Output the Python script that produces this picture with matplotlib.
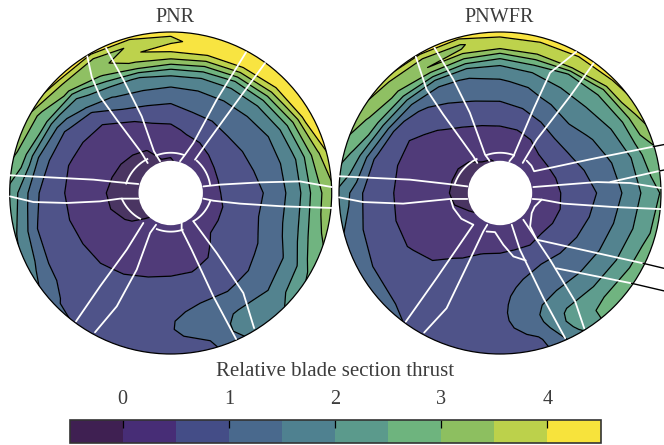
'''
Relative blade section thrust over the rotor disc, two rotor cases
'''

import numpy as np
import matplotlib
matplotlib.use('Agg')
import matplotlib.pyplot as plt
from matplotlib.cm import ScalarMappable
from matplotlib.colors import BoundaryNorm, ListedColormap
from matplotlib.patches import Circle

plt.rcParams['font.family'] = ['Liberation Serif', 'DejaVu Serif']

titles = ['PNR', 'PNWFR']
colorbar_label = 'Relative blade section thrust'
levels = [-0.5, 0, 0.5, 1, 1.5, 2, 2.5, 3, 3.5, 4, 4.5]
colorbar_ticks = [0, 1, 2, 3, 4]

disc_colors = ['#4a3562', '#503b79', '#4f5389', '#4e6b8d', '#53838f',
               '#5f9d8e', '#70b480', '#8fc063', '#bdd24c', '#f8e441']
bar_colors = ['#3f2052', '#472d76', '#444d87', '#49698d', '#4f8190',
              '#5b9a8c', '#6eb47e', '#8dbf60', '#bcd14b', '#f7e33c']

# radial stations (r/R), rows below go clockwise from the top every 15 deg
radii = [0.2, 0.3, 0.4, 0.5, 0.6, 0.65, 0.7, 0.75, 0.8, 0.85, 0.9, 0.95, 1.0]
azimuths = np.arange(0, 375, 15)

pnr_thrust = [
    [-.05, .2, .4, .75, 1.2, 1.45, 1.75, 2.2, 3.0, 3.75, 4.2, 3.85, 4.3],
    [.1, .28, .57, .93, 1.3, 1.47, 1.73, 2.1, 2.8, 3.55, 4.2, 4.35, 4.4],
    [.1, .3, .63, .95, 1.28, 1.45, 1.7, 2.0, 2.5, 3.3, 4.0, 4.4, 4.45],
    [.1, .4, .7, 1.0, 1.28, 1.42, 1.6, 1.88, 2.33, 3.0, 3.7, 4.3, 4.45],
    [.12, .47, .72, .96, 1.23, 1.36, 1.5, 1.78, 2.1, 2.65, 3.3, 4.1, 4.4],
    [.15, .49, .7, .91, 1.18, 1.33, 1.47, 1.72, 1.97, 2.4, 2.95, 3.45, 4.2],
    [.15, .48, .67, .85, 1.05, 1.27, 1.43, 1.66, 1.93, 2.35, 2.75, 3.07, 3.4],
    [.15, .42, .65, .85, 1.08, 1.25, 1.42, 1.62, 1.86, 2.2, 2.62, 2.94, 3.15],
    [.15, .42, .62, .78, .95, 1.05, 1.2, 1.33, 1.47, 1.7, 1.95, 2.33, 2.7],
    [.1, .4, .6, .72, .85, .93, 1.04, 1.19, 1.34, 1.48, 1.68, 1.87, 2.05],
    [.1, .22, .38, .57, .77, .88, .98, 1.15, 1.33, 1.55, 1.7, 1.8, 1.6],
    [.08, .2, .33, .48, .74, .85, .98, 1.1, 1.2, 1.27, 1.15, 1.0, .88],
    [.05, .17, .3, .46, .7, .78, .85, .91, .97, .97, .92, .85, .8],
    [.05, .14, .27, .42, .62, .68, .74, .78, .8, .8, .78, .75, .73],
    [.05, .12, .22, .36, .53, .6, .67, .72, .76, .8, .83, .87, .9],
    [-.02, .06, .17, .3, .47, .56, .63, .7, .76, .82, .88, .96, 1.1],
    [-.1, -.04, .1, .27, .44, .54, .62, .7, .78, .88, 1.12, 1.42, 1.8],
    [-.15, -.12, .02, .22, .4, .5, .6, .7, .8, .95, 1.33, 1.8, 2.15],
    [-.15, -.13, 0, .2, .38, .48, .6, .72, .88, 1.23, 1.6, 2.0, 2.4],
    [-.15, -.1, .03, .22, .38, .48, .63, .8, 1.13, 1.5, 2.14, 2.78, 3.2],
    [-.12, -.08, .06, .25, .43, .55, .72, .9, 1.35, 1.9, 2.7, 2.92, 3.7],
    [-.08, -.05, .1, .28, .5, .72, .97, 1.53, 1.75, 2.2, 3.07, 3.45, 4.5],
    [-.03, -.01, .22, .45, 1.0, 1.28, 1.56, 1.88, 2.5, 3.08, 3.3, 3.3, 4.4],
    [-.02, .1, .33, .68, 1.2, 1.45, 1.73, 2.05, 3.0, 3.6, 3.95, 3.55, 4.4],
    [-.05, .2, .4, .75, 1.2, 1.45, 1.75, 2.2, 3.0, 3.75, 4.2, 3.85, 4.3],
]

pnwfr_thrust = [
    [.05, .2, .45, .77, 1.1, 1.28, 1.46, 1.75, 2.05, 2.7, 3.55, 3.85, 4.4],
    [.08, .24, .48, .85, 1.2, 1.4, 1.58, 1.82, 2.2, 2.9, 3.6, 3.85, 4.4],
    [.1, .28, .55, .97, 1.33, 1.58, 1.75, 1.98, 2.22, 2.47, 3.55, 3.8, 4.3],
    [.1, .37, .7, 1.08, 1.48, 1.65, 1.82, 1.98, 2.2, 2.4, 2.85, 3.75, 4.2],
    [.12, .38, .68, 1.03, 1.32, 1.45, 1.63, 1.82, 2.02, 2.28, 2.66, 3.3, 3.9],
    [.12, .36, .6, .88, 1.17, 1.3, 1.43, 1.62, 1.82, 2.03, 2.42, 2.7, 2.95],
    [.12, .33, .55, .77, 1.0, 1.17, 1.31, 1.47, 1.68, 1.9, 2.1, 2.35, 2.6],
    [.12, .3, .53, .8, 1.07, 1.23, 1.38, 1.58, 1.77, 1.98, 2.2, 2.43, 2.75],
    [.1, .3, .56, .85, 1.15, 1.3, 1.45, 1.65, 1.85, 2.07, 2.33, 2.62, 2.9],
    [.1, .32, .62, .92, 1.2, 1.35, 1.5, 1.7, 1.9, 2.13, 2.4, 2.75, 2.95],
    [.08, .28, .58, .97, 1.25, 1.38, 1.5, 1.7, 1.88, 2.1, 2.2, 2.1, 1.85],
    [.06, .28, .62, .88, 1.1, 1.2, 1.3, 1.38, 1.4, 1.3, 1.1, .9, .8],
    [.05, .27, .58, .72, .82, .87, .88, .88, .85, .8, .75, .72, .7],
    [.05, .22, .53, .68, .75, .77, .78, .78, .76, .74, .72, .7, .7],
    [.03, .16, .36, .57, .69, .73, .75, .77, .78, .8, .82, .85, .9],
    [.02, .1, .22, .37, .51, .57, .63, .7, .77, .85, .93, 1.02, 1.15],
    [-.02, .07, .18, .3, .42, .48, .55, .63, .72, .82, .95, 1.15, 1.4],
    [-.1, .01, .13, .27, .4, .47, .55, .63, .73, .88, 1.08, 1.3, 1.55],
    [-.15, -.02, .12, .27, .4, .48, .58, .7, .83, .98, 1.3, 1.6, 1.95],
    [-.15, -.01, .13, .27, .4, .48, .6, .75, .9, 1.42, 2.0, 2.45, 2.8],
    [-.12, 0, .15, .28, .4, .5, .65, .82, 1.5, 2.15, 2.85, 3.05, 3.4],
    [-.08, .03, .2, .4, .6, .75, .9, 1.22, 1.75, 2.5, 3.05, 3.15, 4.1],
    [-.03, .1, .32, .57, .85, 1.02, 1.2, 1.4, 1.85, 2.8, 3.5, 3.3, 4.4],
    [-.02, .13, .4, .7, 1.03, 1.2, 1.35, 1.55, 2.0, 2.8, 3.55, 3.45, 4.4],
    [.05, .2, .45, .77, 1.1, 1.28, 1.46, 1.75, 2.05, 2.7, 3.55, 3.85, 4.4],
]

# blade edges, x and y in units of the disc radius
pnr_blades = [
    [(-.518, .849), (-.49, .72), (-.439, .6), (-.335, .455), (-.18, .248), (-.143, .186)],
    [(-.402, .901), (-.294, .704), (-.18, .476), (-.104, .259), (-.066, .197)],
    [(.468, .874), (.286, .58), (.141, .311), (.089, .238), (.058, .197)],
    [(.586, .807), (.389, .538), (.224, .311), (.151, .207)],
    [(1.0, .037), (.803, .072), (.555, .066), (.306, .052), (.203, .041)],
    [(1.0, -.093), (.7, -.083), (.431, -.066), (.265, -.048), (.203, -.035)],
    [(.518, -.839), (.451, -.621), (.286, -.373), (.141, -.176)],
    [(.406, -.907), (.265, -.642), (.13, -.352), (.068, -.228), (.068, -.186)],
    [(-.47, -.865), (-.335, -.704), (-.211, -.476), (-.128, -.248), (-.091, -.197)],
    [(-.588, -.797), (-.439, -.58), (-.273, -.352), (-.17, -.186)],
    [(-.998, .11), (-.75, .097), (-.48, .083), (-.335, .068), (-.201, .056)],
    [(-.998, -.021), (-.853, -.056), (-.646, -.062), (-.439, -.052),
     (-.315, -.035), (-.201, -.035)],
]
# hub arcs: start angle, end angle (deg from +x), start radius, end radius
pnr_arcs = [
    (168, 124.5, .283, .256),
    (111, 70.5, .25, .25),
    (51, 12, .258, .25),
    (-12, -51, .25, .225),
    (-72, -111, .24, .24),
    (220, 186.6, .248, .306),
]

pnwfr_blades = [
    [(-.523, .846), (-.456, .643), (-.353, .488), (-.166, .228), (-.141, .187)],
    [(-.407, .902), (-.29, .705), (-.187, .498), (-.093, .239), (-.066, .201)],
    [(.473, .876), (.311, .747), (.207, .519), (.083, .228), (.058, .197)],
    [(.581, .805), (.436, .602), (.228, .332), (.141, .187)],
    [(1.0, .031), (.809, .062), (.602, .068), (.207, .037)],
    [(1.0, -.1), (.705, -.087), (.394, -.066), (.259, -.041), (.203, -.037)],
    [(.523, -.84), (.467, -.674), (.311, -.415), (.145, -.166)],
    [(.405, -.902), (.27, -.654), (.124, -.353), (.073, -.197)],
    [(-.471, -.867), (-.332, -.716), (-.207, -.456), (-.104, -.239), (-.079, -.197)],
    [(-.585, -.799), (-.394, -.529), (-.166, -.197)],
    [(-1.0, .104), (-.56, .083), (-.322, .056), (-.203, .041)],
    [(-1.0, -.027), (-.851, -.056), (-.602, -.066), (-.311, -.037), (-.203, -.037)],
    [(.166, .201), (.195, .17), (.212, .135), (.602, .218), (.953, .288)],
    [(.685, .068), (.99, .137)],
    [(.259, -.041), (.215, -.085), (.197, -.124), (.187, -.207), (.228, -.29), (.89, -.437)],
    [(.352, -.468), (.818, -.561)],
    [(-.083, -.239), (-.031, -.243), (.021, -.322), (.083, -.394), (.16, -.419)],
    [(-.166, -.197), (-.24, -.16), (-.29, -.093), (-.307, -.037)],
]
pnwfr_arcs = [
    (168, 124.5, .286, .256),
    (110.5, 69.6, .25, .25),
]

# part of the pointer lines that runs off the disc
pnwfr_pointers = [
    [(.953, .288), (1.04, .305)],
    [(.99, .137), (1.04, .147)],
    [(.89, -.437), (1.04, -.473)],
    [(.818, -.561), (1.04, -.613)],
]


def plot_disc(ax, thrust, blades, arcs, pointers=()):
    '''
    Filled and line contours of one rotor disc, with the blades on top
    '''
    # push the last station out a bit, the disc circle clips it back
    r = np.array(radii)
    r[-1] = 1.02
    theta = np.radians(azimuths)
    x = np.outer(np.sin(theta), r)
    y = np.outer(np.cos(theta), r)
    z = np.array(thrust)

    rim = Circle((0, 0), 1.0, transform=ax.transData)
    filled = ax.contourf(x, y, z, levels=levels, colors=disc_colors)
    filled.set_clip_path(rim)
    lines = ax.contour(x, y, z, levels=levels[1:-1], colors='k', linewidths=0.9)
    lines.set_clip_path(rim)

    ax.add_patch(Circle((0, 0), 1.0, fill=False, ec='k', lw=0.9, zorder=3))
    ax.add_patch(Circle((0, 0), 0.2, fc='w', ec='none', zorder=4))
    for edge in blades:
        xs, ys = zip(*edge)
        ax.plot(xs, ys, c='w', lw=1.3, zorder=5, solid_capstyle='round')
    for start, end, r0, r1 in arcs:
        angle = np.radians(np.linspace(start, end, 20))
        rad = np.linspace(r0, r1, 20)
        ax.plot(rad * np.cos(angle), rad * np.sin(angle), c='w', lw=1.3, zorder=5)
    for edge in pointers:
        xs, ys = zip(*edge)
        ax.plot(xs, ys, c='k', lw=1.0, zorder=5)


fig = plt.figure(figsize=(6.64, 4.45), dpi=100)
W, H = 664.0, 445.0
R = 161.0


def disc_axes(px_left, px_right, center_x):
    ax = fig.add_axes([px_left / W, (H - 356) / H, (px_right - px_left) / W, 331 / H])
    ax.set_xlim((px_left - center_x) / R, (px_right - center_x) / R)
    ax.set_ylim((193 - 356) / R, (193 - 25) / R)
    ax.axis('off')
    return ax


ax_pnr = disc_axes(0, 335.5, 170.7)
ax_pnwfr = disc_axes(335.5, 664, 500.0)
plot_disc(ax_pnr, pnr_thrust, pnr_blades, pnr_arcs)
plot_disc(ax_pnwfr, pnwfr_thrust, pnwfr_blades, pnwfr_arcs, pnwfr_pointers)

text_color = '#3c3c3c'
fig.text(175 / W, 1 - 18 / H, titles[0], ha='center', va='center',
         fontsize=14.6, color=text_color)
fig.text(499 / W, 1 - 18 / H, titles[1], ha='center', va='center',
         fontsize=14.6, color=text_color)
fig.text(335 / W, 1 - 371 / H, colorbar_label, ha='center', va='center',
         fontsize=15, color=text_color)

cax = fig.add_axes([69.5 / W, (H - 443) / H, 531 / W, 23 / H])
mappable = ScalarMappable(norm=BoundaryNorm(levels, len(bar_colors)),
                          cmap=ListedColormap(bar_colors))
cbar = fig.colorbar(mappable, cax=cax, orientation='horizontal',
                    ticks=colorbar_ticks, spacing='proportional')
cax.xaxis.set_ticks_position('top')
cax.tick_params(axis='x', which='major', direction='in', length=6, width=0.9,
                color='k', pad=8, labelsize=14.6, labelcolor=text_color)
cax.minorticks_off()
cbar.outline.set_edgecolor('#333333')
cbar.outline.set_linewidth(1.2)

fig.savefig('out.png', dpi=100)
